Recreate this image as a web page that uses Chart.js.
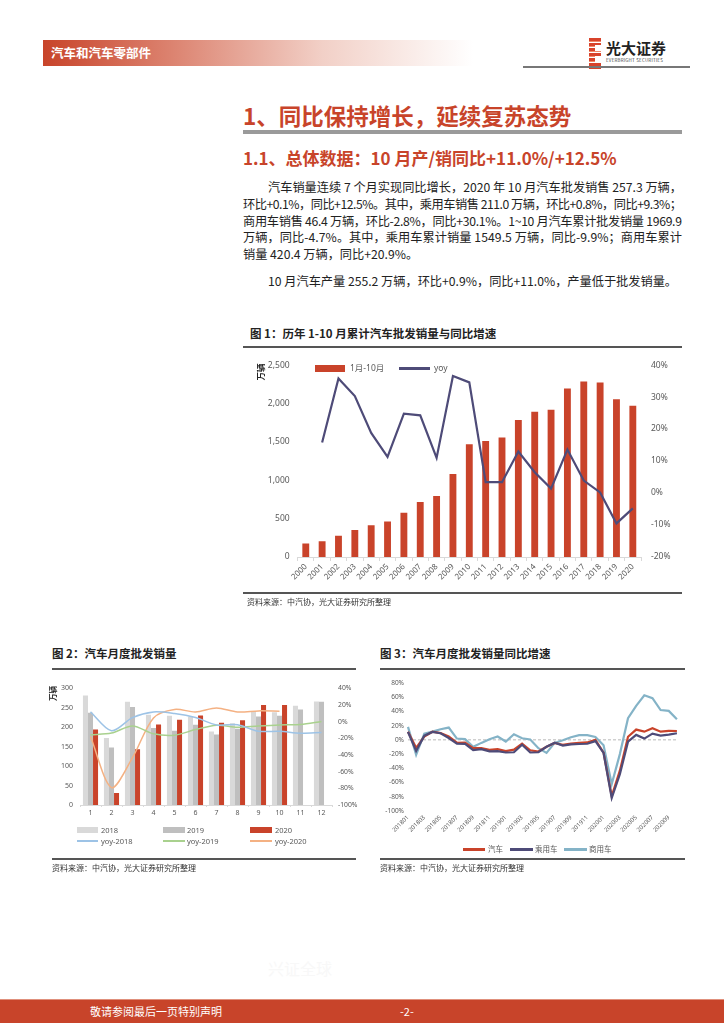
<!DOCTYPE html>
<html>
<head>
<meta charset="utf-8">
<script src="https://cdn.jsdelivr.net/npm/chart.js@4.4.0/dist/chart.umd.min.js"></script>
<style>
body{margin:0;width:724px;height:1024px;position:relative;background:#fff;overflow:hidden;
  font-family:"Noto Sans CJK SC","Noto Sans",sans-serif;color:#222;}
.abs{position:absolute;}
.line{position:absolute;white-space:nowrap;font-size:12.2px;height:17px;line-height:17px;}
.ctitle{position:absolute;font-size:11.5px;font-weight:bold;white-space:nowrap;line-height:14px;}
.rule{position:absolute;height:1.5px;background:#555;}
.src{position:absolute;font-size:8px;color:#333;white-space:nowrap;line-height:10px;}
.lg{position:absolute;font-size:8px;color:#595959;white-space:nowrap;line-height:10px;font-family:"Noto Sans","Noto Sans CJK SC",sans-serif;}
.sw{position:absolute;}
canvas{position:absolute;}
</style>
</head>
<body>

<!-- header -->
<div class="abs" style="left:43px;top:40px;width:430px;height:26px;background:linear-gradient(to right,#c8442a 0%,#dc8370 30%,#f2d0c7 65%,#fff 100%);"></div>
<div class="abs" style="left:51px;top:44px;font-size:12.5px;font-weight:bold;color:#fff;line-height:18px;">汽车和汽车零部件</div>
<div class="abs" style="left:589px;top:38px;width:12px;height:31px;background:repeating-linear-gradient(to bottom,#d8432b 0 3px,#f08a6a 3px 4px,#fff 4px 5px);"></div>
<div class="abs" style="left:595px;top:45px;width:6px;height:6px;background:#fff;"></div>
<div class="abs" style="left:595px;top:56px;width:6px;height:6px;background:#fff;"></div>
<div class="abs" style="left:606px;top:39px;font-size:15px;font-weight:bold;color:#222;line-height:18px;">光大证券</div>
<div class="abs" style="left:606px;top:57px;font-size:4.5px;color:#444;line-height:6px;letter-spacing:0.2px;">EVERBRIGHT SECURITIES</div>
<div class="abs" style="left:523px;top:66px;width:167px;height:2px;background:#777;"></div>

<!-- headings -->
<div class="abs" style="left:243px;top:100px;font-size:22.5px;font-weight:bold;color:#c8442a;line-height:30px;white-space:nowrap;">1、同比保持增长，延续复苏态势</div>
<div class="abs" style="left:243px;top:130px;width:439px;height:4px;background:#9a9a9a;"></div>
<div class="abs" style="left:243px;top:146px;font-size:17px;font-weight:bold;color:#c8442a;line-height:24px;white-space:nowrap;">1.1、总体数据：10 月产/销同比+11.0%/+12.5%</div>

<!-- body text -->
<div class="line fit" data-l="268" data-r="682" style="left:268px;top:179px;"><span>汽车销量连续 7 个月实现同比增长，2020 年 10 月汽车批发销售 257.3 万辆，</span></div>
<div class="line fit" data-l="243" data-r="682" style="left:243px;top:196px;"><span>环比+0.1%，同比+12.5%。其中，乘用车销售 211.0 万辆，环比+0.8%，同比+9.3%；</span></div>
<div class="line fit" data-l="243" data-r="682" style="left:243px;top:213px;"><span>商用车销售 46.4 万辆，环比-2.8%，同比+30.1%。1~10 月汽车累计批发销量 1969.9</span></div>
<div class="line fit" data-l="243" data-r="682" style="left:243px;top:229px;"><span>万辆，同比-4.7%。其中，乘用车累计销量 1549.5 万辆，同比-9.9%；商用车累计</span></div>
<div class="line" style="left:243px;top:246px;"><span>销量 420.4 万辆，同比+20.9%。</span></div>
<div class="line" style="left:268px;top:273px;"><span>10 月汽车产量 255.2 万辆，环比+0.9%，同比+11.0%，产量低于批发销量。</span></div>

<!-- figure 1 -->
<div class="ctitle" style="left:250px;top:326px;">图 1：历年 1-10 月累计汽车批发销量与同比增速</div>
<div class="rule" style="left:243px;top:346px;width:439px;"></div>
<canvas id="c1" width="439" height="243" style="left:243px;top:350px;"></canvas>
<div class="abs" style="left:251px;top:367px;font-size:8.5px;font-weight:bold;transform:rotate(-90deg);transform-origin:center;line-height:10px;">万辆</div>
<div class="sw" style="left:315px;top:365px;width:30px;height:7px;background:#c9432a;"></div>
<div class="lg" style="left:350px;top:363px;font-size:8.5px;">1月-10月</div>
<div class="sw" style="left:399px;top:367px;width:31px;height:2.5px;background:#4e4b78;"></div>
<div class="lg" style="left:434px;top:363px;font-size:8.5px;">yoy</div>
<div class="rule" style="left:243px;top:592px;width:439px;"></div>
<div class="src" style="left:247px;top:597px;">资料来源：中汽协，光大证券研究所整理</div>

<!-- figure 2 -->
<div class="ctitle" style="left:52px;top:646px;">图 2：汽车月度批发销量</div>
<div class="rule" style="left:52px;top:668px;width:304px;"></div>
<canvas id="c2" width="310" height="145" style="left:52px;top:677px;"></canvas>
<div class="abs" style="left:45px;top:689px;font-size:7.5px;font-weight:bold;transform:rotate(-90deg);line-height:9px;">万辆</div>
<div class="sw" style="left:77px;top:827px;width:21px;height:6px;background:#d9d9d9;"></div>
<div class="lg" style="left:101px;top:825px;font-size:7.5px;">2018</div>
<div class="sw" style="left:163px;top:827px;width:22px;height:6px;background:#bfbfbf;"></div>
<div class="lg" style="left:187px;top:825px;font-size:7.5px;">2019</div>
<div class="sw" style="left:250px;top:827px;width:22px;height:6px;background:#c9432a;"></div>
<div class="lg" style="left:275px;top:825px;font-size:7.5px;">2020</div>
<div class="sw" style="left:77px;top:840px;width:21px;height:1.5px;background:#9dc3e6;"></div>
<div class="lg" style="left:101px;top:836px;font-size:7.5px;">yoy-2018</div>
<div class="sw" style="left:163px;top:840px;width:22px;height:1.5px;background:#a9d18e;"></div>
<div class="lg" style="left:187px;top:836px;font-size:7.5px;">yoy-2019</div>
<div class="sw" style="left:250px;top:840px;width:22px;height:1.5px;background:#f4b183;"></div>
<div class="lg" style="left:275px;top:836px;font-size:7.5px;">yoy-2020</div>
<div class="rule" style="left:52px;top:858px;width:304px;"></div>
<div class="src" style="left:52px;top:863px;">资料来源：中汽协，光大证券研究所整理</div>

<!-- figure 3 -->
<div class="ctitle" style="left:380px;top:646px;">图 3：汽车月度批发销量同比增速</div>
<div class="rule" style="left:380px;top:668px;width:305px;"></div>
<canvas id="c3" width="305" height="165" style="left:380px;top:675px;"></canvas>
<div class="sw" style="left:463px;top:848px;width:22px;height:3px;background:#c9432a;"></div>
<div class="lg" style="left:488px;top:844px;font-size:7.5px;">汽车</div>
<div class="sw" style="left:510px;top:848px;width:23px;height:3px;background:#4e4b78;"></div>
<div class="lg" style="left:535px;top:844px;font-size:7.5px;">乘用车</div>
<div class="sw" style="left:564px;top:848px;width:23px;height:3px;background:#84b3c7;"></div>
<div class="lg" style="left:589px;top:844px;font-size:7.5px;">商用车</div>
<div class="rule" style="left:380px;top:858px;width:305px;"></div>
<div class="src" style="left:380px;top:863px;">资料来源：中汽协，光大证券研究所整理</div>

<!-- footer -->
<div class="abs" style="left:268px;top:958px;font-size:16px;color:#f8f8f8;line-height:20px;">兴证全球</div>
<div class="abs" style="left:0;top:999px;width:724px;height:23px;background:#c8442a;border-top:1px solid #e0907c;"></div>
<div class="abs" style="left:90px;top:1004px;font-size:11px;color:#fff;line-height:14px;">敬请参阅最后一页特别声明</div>
<div class="abs" style="left:400px;top:1004px;font-size:11px;color:#fff;line-height:14px;">-2-</div>

<script>
// ---- 图1 data ----
const years = ['2000','2001','2002','2003','2004','2005','2006','2007','2008','2009','2010',
  '2011','2012','2013','2014','2015','2016','2017','2018','2019','2020'];
const salesJanOct = [176,205,276,352,415,461,578,716,795,1080,1470,1511,1558,1784,1893,1918,2195,2286,2274,2056,1970];
const yoyJanOct = [null,15.8,35.8,30.3,18.8,11.3,24.8,24.3,11.0,36.6,34.6,3.4,3.4,13.0,6.5,1.4,13.6,3.9,0.2,-9.5,-4.8];

// ---- 图2 data ----
const months = ['1','2','3','4','5','6','7','8','9','10','11','12'];
const sales2018 = [281,172,265,232,229,227,189,210,239,238,255,266];
const sales2019 = [237,148,252,198,191,206,181,196,227,229,245,265];
const sales2020 = [194,31,143,207,219,230,211,218,257,257,null,null];
const yoy2018 = [11.6,-11.1,4.7,11.5,9.6,4.8,-4.0,-3.8,-11.6,-11.7,-13.9,-13.0];
const yoy2019 = [-15.8,-13.8,-5.2,-14.6,-16.4,-9.6,-4.3,-6.9,-5.2,-4.0,-3.6,0.1];
const yoy2020 = [-18.0,-79.1,-43.3,4.4,14.5,11.6,16.4,11.6,12.8,12.5,null,null];

// ---- 图3 data ----
const ymLabels = ['201801','201802','201803','201804','201805','201806','201807','201808','201809','201810','201811','201812',
  '201901','201902','201903','201904','201905','201906','201907','201908','201909','201910','201911','201912',
  '202001','202002','202003','202004','202005','202006','202007','202008','202009','202010'];
const yoyAuto = [11.6,-11.1,4.7,11.5,9.6,4.8,-4.0,-3.8,-11.6,-11.7,-13.9,-13.0,
  -15.8,-13.8,-5.2,-14.6,-16.4,-9.6,-4.3,-6.9,-5.2,-4.0,-3.6,0.1,
  -18.0,-79.1,-43.3,4.4,14.5,11.6,16.4,11.6,12.8,12.5];
const yoyPassenger = [11.2,-15.6,5.9,11.2,9.3,2.6,-5.3,-5.5,-14.4,-13.0,-16.1,-15.8,
  -17.7,-17.4,-6.9,-17.7,-17.4,-9.7,-4.0,-8.0,-6.3,-5.8,-5.4,-1.7,
  -18.4,-81.7,-48.4,-2.6,7.0,1.8,8.9,6.0,7.4,9.3];
const yoyCommercial = [18.3,-21.0,8.9,11.7,15.0,17.3,1.9,1.0,-9.8,-4.2,1.0,4.7,
  -2.3,8.0,2.3,0.5,-11.7,-18.3,-4.2,-0.5,3.8,6.6,6.6,4.2,
  -7.5,-62.0,-20.0,30.5,47.8,62.8,58.6,42.0,40.8,29.0];

// justify body lines
document.querySelectorAll('.fit').forEach(el => {
  const sp = el.firstChild;
  const target = el.dataset.r - el.dataset.l;
  const w = sp.getBoundingClientRect().width;
  const n = sp.textContent.length;
  sp.style.letterSpacing = ((target - w) / (n - 1)) + 'px';
});

Chart.defaults.font.family = "'Noto Sans','Noto Sans CJK SC',sans-serif";
Chart.defaults.color = '#595959';

const noGrid = {display:false, drawTicks:false};

/* ====== 图1 ===== */
new Chart(document.getElementById('c1'), {
  type: 'bar',
  data: {
    labels: years,
    datasets: [
      {type:'line', label:'yoy', data:yoyJanOct, yAxisID:'y1', borderColor:'#4e4b78', borderWidth:2.2,
        pointRadius:0, order:0},
      {type:'bar', label:'1月-10月', data:salesJanOct, yAxisID:'y', backgroundColor:'#c9432a',
        barPercentage:0.42, categoryPercentage:1, order:1}
    ]
  },
  options: {
    responsive:false, animation:false,
    layout:{padding:{top:8, left:0, right:0, bottom:0}},
    plugins:{legend:{display:false}, tooltip:{enabled:false}},
    scales:{
      x:{grid:{display:true, drawOnChartArea:false, tickLength:4, color:'#d9d9d9'},
        border:{color:'#d9d9d9'},
        ticks:{minRotation:45, maxRotation:45, autoSkip:false, padding:1, font:{size:8}},
        afterFit:s => { s.height = 36; }},
      y:{position:'left', min:0, max:2500, grid:noGrid, border:{display:false},
        ticks:{stepSize:500, padding:8, font:{size:8.5}, callback:v => v.toLocaleString('en-US')},
        afterFit:s => { s.width = 54.6; }},
      y1:{position:'right', min:-20, max:40, grid:noGrid, border:{display:false},
        ticks:{stepSize:10, padding:10, font:{size:8.5}, callback:v => v + '%'},
        afterFit:s => { s.width = 41; }}
    }
  }
});

/* ====== 图2 ===== */
new Chart(document.getElementById('c2'), {
  type: 'bar',
  data: {
    labels: months,
    datasets: [
      {type:'line', label:'yoy-2018', data:yoy2018, yAxisID:'y1', borderColor:'#9dc3e6', borderWidth:1.5, pointRadius:0, tension:0.3, order:0},
      {type:'line', label:'yoy-2019', data:yoy2019, yAxisID:'y1', borderColor:'#a9d18e', borderWidth:1.5, pointRadius:0, tension:0.3, order:0},
      {type:'line', label:'yoy-2020', data:yoy2020, yAxisID:'y1', borderColor:'#f4b183', borderWidth:1.5, pointRadius:0, tension:0.3, order:0},
      {label:'2018', data:sales2018, backgroundColor:'#d9d9d9', order:1},
      {label:'2019', data:sales2019, backgroundColor:'#bfbfbf', order:1},
      {label:'2020', data:sales2020, backgroundColor:'#c9432a', order:1}
    ]
  },
  options: {
    responsive:false, animation:false,
    datasets:{bar:{barPercentage:1, categoryPercentage:0.72}},
    layout:{padding:{top:8, left:0, right:0, bottom:0}},
    plugins:{legend:{display:false}, tooltip:{enabled:false}},
    scales:{
      x:{grid:{display:true, drawOnChartArea:false, tickLength:2, color:'#d9d9d9'},
        border:{color:'#d9d9d9'},
        ticks:{padding:2, font:{size:7}},
        afterFit:s => { s.height = 17; }},
      y:{position:'left', min:0, max:300, grid:noGrid, border:{display:false},
        ticks:{stepSize:50, padding:7, font:{size:7}},
        afterFit:s => { s.width = 28; }},
      y1:{position:'right', min:-100, max:40, grid:noGrid, border:{display:false},
        ticks:{stepSize:20, padding:6, font:{size:6.8}, callback:v => v + '%'},
        afterFit:s => { s.width = 30; }}
    }
  }
});

/* ====== 图3 ===== */
new Chart(document.getElementById('c3'), {
  type: 'line',
  data: {
    labels: ymLabels,
    datasets: [
      {label:'商用车', data:yoyCommercial, borderColor:'#84b3c7', borderWidth:2.2, pointRadius:0, order:2},
      {label:'汽车', data:yoyAuto, borderColor:'#c9432a', borderWidth:2.2, pointRadius:0, order:1},
      {label:'乘用车', data:yoyPassenger, borderColor:'#4e4b78', borderWidth:2.2, pointRadius:0, order:0}
    ]
  },
  options: {
    responsive:false, animation:false,
    layout:{padding:{top:8, left:0, right:7, bottom:0}},
    plugins:{legend:{display:false}, tooltip:{enabled:false}},
    scales:{
      x:{grid:noGrid, border:{display:false},
        ticks:{minRotation:45, maxRotation:45, autoSkip:false, padding:3, font:{size:6},
          callback:(v, i) => i % 2 === 0 ? ymLabels[i] : ''},
        afterFit:s => { s.height = 29; }},
      y:{min:-100, max:80,
        grid:{drawTicks:false, color:c => c.tick && c.tick.value === 0 ? '#d0d0d0' : 'rgba(0,0,0,0)', lineWidth:1.5},
        border:{display:false, dash:[3,2]},
        ticks:{stepSize:20, padding:4, font:{size:6.5}, callback:v => v + '%'},
        afterFit:s => { s.width = 28; }}
    }
  }
});
</script>
</body>
</html>
